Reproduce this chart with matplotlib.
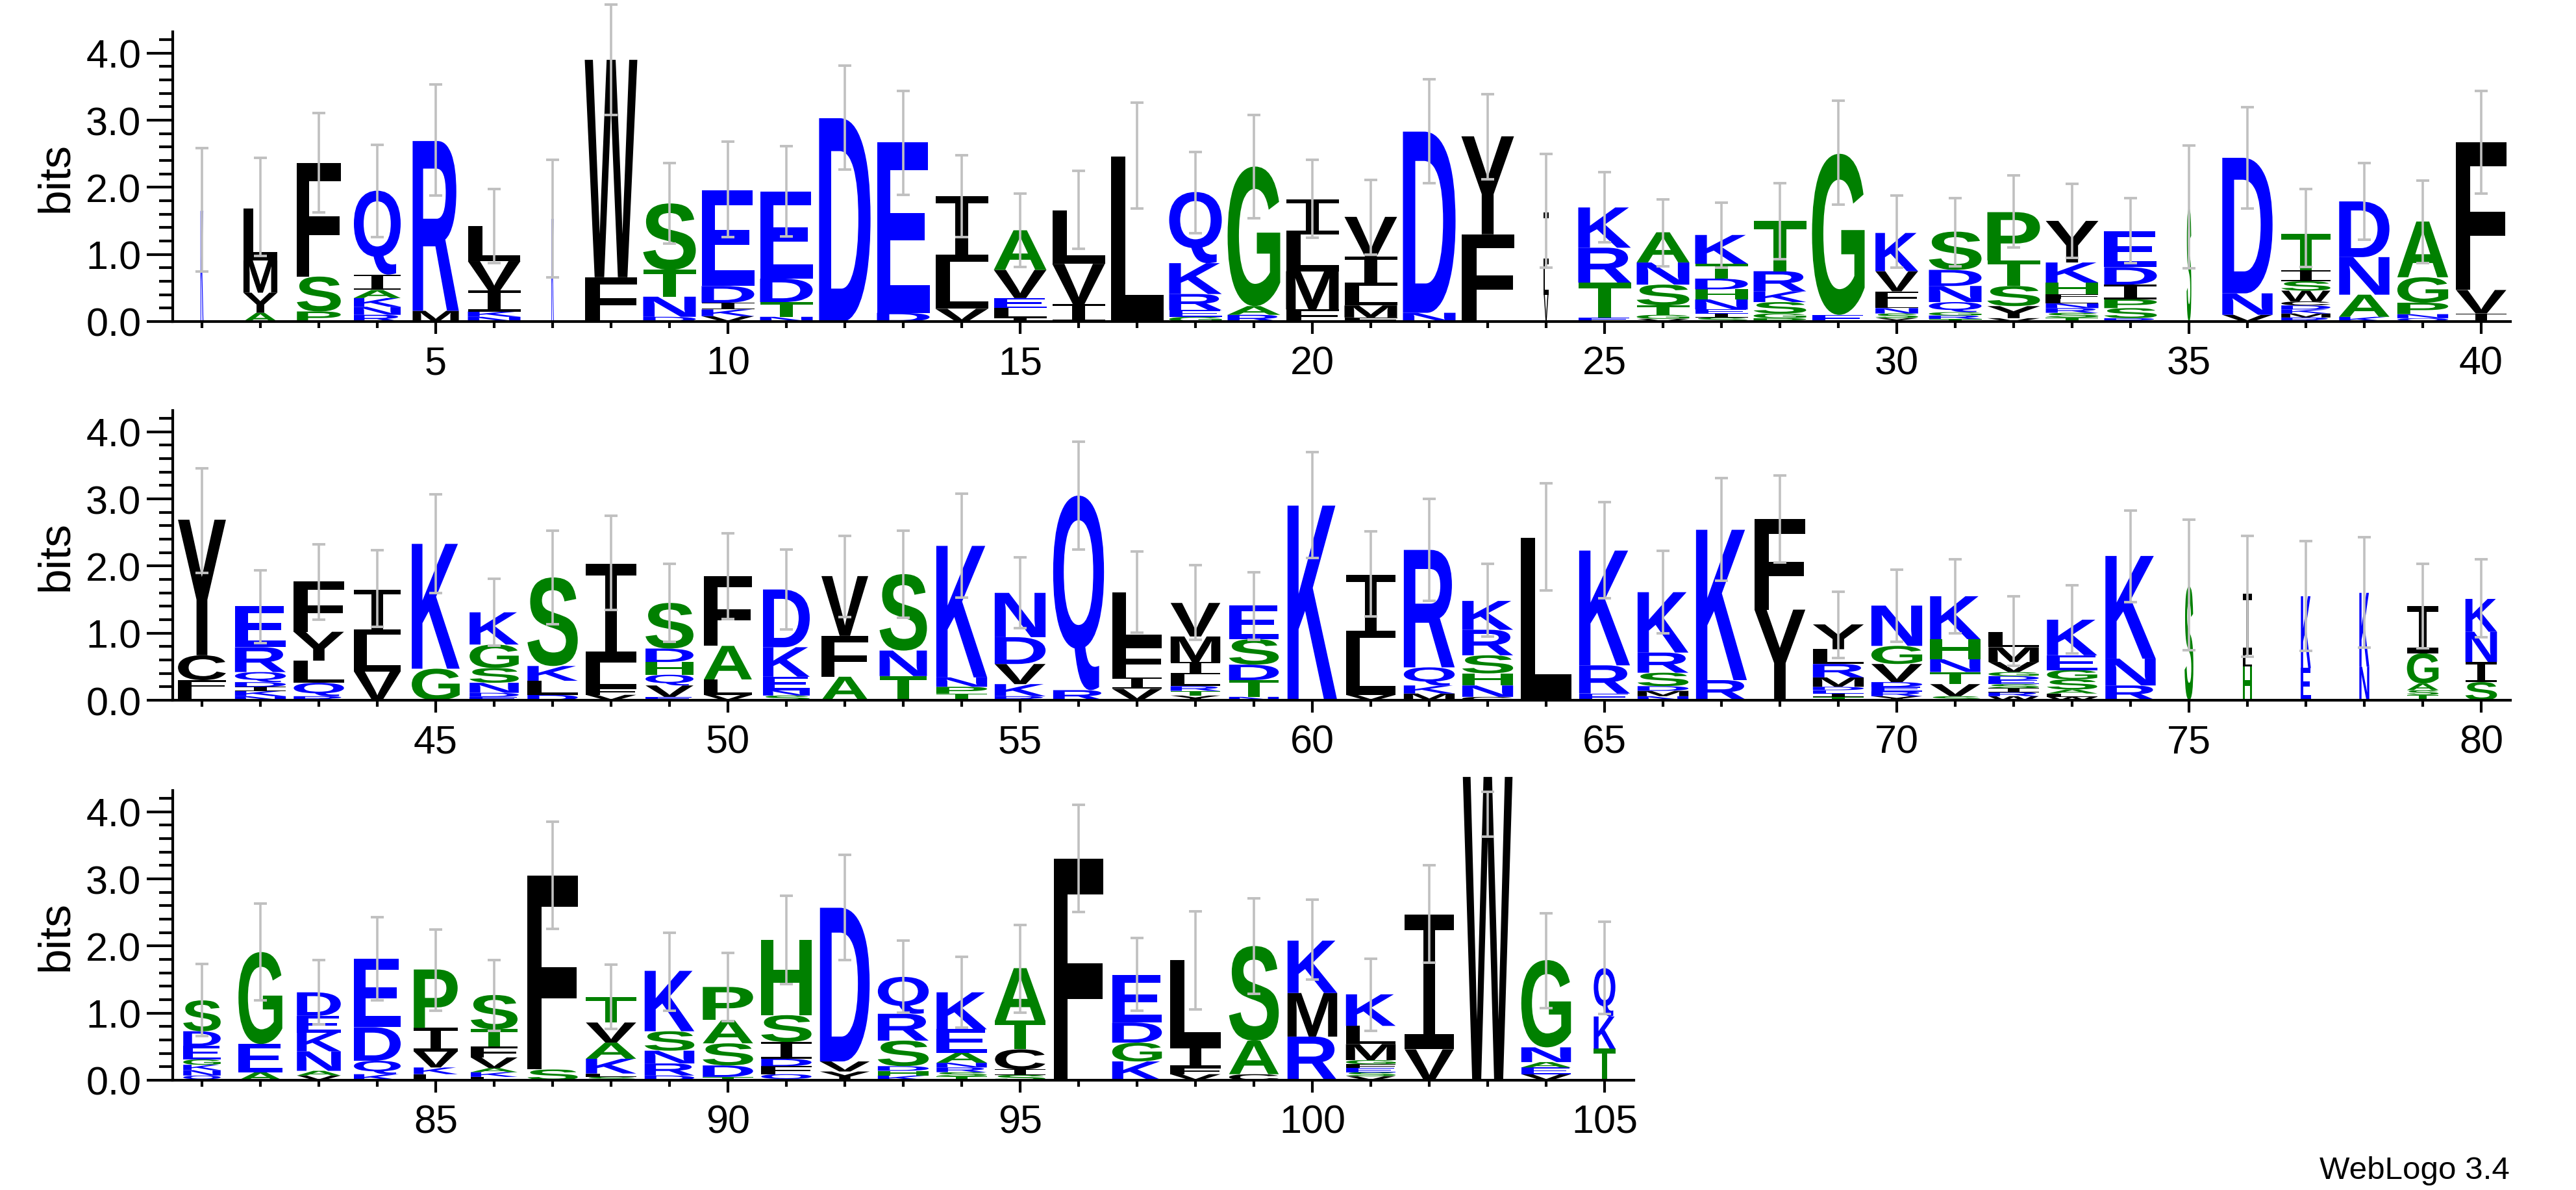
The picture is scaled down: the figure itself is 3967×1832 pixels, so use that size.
import matplotlib
matplotlib.use("Agg")
import matplotlib.pyplot as plt
from matplotlib.textpath import TextPath
from matplotlib.font_manager import FontProperties
from matplotlib.patches import PathPatch
from matplotlib.transforms import Affine2D

# ---------------- data (bottom -> top, letter:bits) ----------------
stacks_1_40 = [
    "K:1.65", "A:.13 Y:.30 M:.48 L:.77", "P:.15 S:.52 F:1.69",
    "R:.10 N:.12 K:.13 A:.12 I:.23 Q:1.25", "M:.16 R:2.53",
    "N:.07 K:.08 I:.31 V:.44 L:.52", "K:1.53", "F:.66 W:3.24",
    "D:.07 N:.30 T:.40 S:.99", "V:.08 K:.10 I:.10 D:.25 E:1.43",
    "N:.07 T:.22 D:.35 E:1.30", "D:3.03", "D:.13 E:2.54", "V:.19 L:.70 I:.98",
    "I:.05 L:.15 E:.15 V:.42 A:.59", "I:.26 V:.60 L:.80", "L:2.46",
    "G:.07 E:.10 R:.24 K:.46 Q:1.06", "R:.10 A:.13 G:2.08",
    "F:.18 M:.57 L:.55 I:.52", "F:.06 M:.18 L:.29 I:.44 V:.59", "N:.13 D:2.70",
    "F:1.30 Y:1.46", "V:.40 L:.45 I:.78", "E:.06 T:.52 R:.52 K:.60",
    "V:.04 G:.06 T:.14 S:.31 N:.33 A:.45",
    "S:.06 I:.06 E:.06 N:.15 H:.15 D:.16 T:.22 K:.43",
    "P:.05 G:.07 S:.17 K:.16 R:.30 T:.75", "E:.10 G:2.40",
    "Y:.05 S:.07 N:.08 L:.08 F:.17 V:.30 K:.57",
    "T:.04 R:.05 G:.05 Q:.15 N:.24 D:.24 S:.57", "V:.05 Y:.18 S:.30 T:.38 P:.72",
    "T:.06 S:.07 R:.07 N:.07 L:.07 F:.07 H:.17 K:.30 Y:.62",
    "R:.05 S:.15 P:.13 I:.22 D:.26 E:.54", "S:1.69", "V:.10 N:.32 D:2.02",
    "R:.06 M:.06 K:.06 D:.06 C:.06 W:.16 S:.14 I:.16 T:.55",
    "K:.07 A:.33 N:.56 D:.83", "Q:.05 N:.06 P:.17 G:.38 A:.83", "I:.12 V:.35 F:2.20",
]
stacks_41_80 = [
    "L:.14 F:.16 C:.37 Y:2.02", "N:.06 K:.08 I:.06 D:.07 Q:.15 R:.37 E:.61",
    "R:.06 Q:.20 L:.33 Y:.43 F:.75", "V:.43 L:.55 I:.67", "G:.47 K:1.86",
    "E:.05 D:.06 N:.15 S:.22 G:.35 K:.48", "D:.08 L:.21 K:.22 S:1.32",
    "V:.08 F:.10 L:.38 I:1.47", "E:.05 V:.17 Q:.16 H:.19 D:.20 S:.68",
    "V:.08 L:.23 A:.50 F:1.04", "S:.07 N:.08 E:.20 K:.44 D:.86",
    "A:.35 F:.61 V:.89", "T:.36 N:.38 S:1.14", "T:.10 P:.10 N:.14 K:1.96",
    "R:.06 K:.18 V:.30 D:.40 N:.66", "R:.15 Q:2.90", "V:.17 I:.17 F:.52 L:.75",
    "Y:.07 T:.07 R:.07 L:.18 I:.18 M:.38 V:.50", "N:.05 T:.25 D:.23 S:.38 E:.50",
    "K:2.90", "V:.08 L:.85 I:.94", "M:.10 K:.12 Q:.27 R:1.75",
    "C:.05 N:.17 H:.18 S:.27 R:.38 K:.43", "L:2.42", "E:.10 R:.42 K:1.71",
    "N:.06 M:.08 D:.07 S:.20 R:.30 K:.90", "R:.30 K:2.24", "Y:1.35 F:1.35",
    "T:.05 I:.05 E:.05 D:.05 M:.14 R:.20 L:.22 Y:.37",
    "Y:.06 R:.07 E:.07 D:.07 V:.27 G:.27 N:.60",
    "S:.06 V:.18 T:.18 N:.19 H:.30 K:.64",
    "W:.06 R:.06 I:.06 S:.06 E:.06 D:.06 G:.06 V:.15 M:.22 L:.23",
    "W:.05 L:.05 A:.06 S:.15 G:.14 E:.22 K:.53", "R:.22 N:.40 K:1.53",
    "S:1.70", "H:.50 L:.18 I:.91", "E:.48 K:1.07", "N:.50 K:1.10",
    "T:.08 S:.07 A:.10 G:.45 I:.70", "S:.27 I:.30 N:.45 K:.49",
]
stacks_81_105 = [
    "Q:.07 N:.08 K:.08 G:.08 E:.20 D:.22 S:.46", "A:.12 E:.42 G:1.37",
    "V:.07 A:.07 N:.29 K:.28 E:.25 D:.35", "K:.09 Q:.20 D:.50 E:1.02",
    "L:.09 K:.10 V:.24 I:.35 P:.87", "L:.05 K:.07 A:.06 V:.16 F:.16 T:.26 S:.51",
    "S:.16 F:2.89", "S:.05 L:.05 K:.22 A:.24 V:.30 T:.38",
    "D:.07 R:.18 N:.19 S:.29 K:.90", "T:.05 D:.17 S:.33 A:.35 P:.49",
    "Q:.09 F:.12 D:.11 I:.25 S:.40 H:1.12", "Y:.13 V:.15 D:2.29",
    "K:.07 H:.07 D:.07 S:.38 R:.40 Q:.55",
    "T:.06 S:.06 R:.07 N:.07 A:.15 E:.35 K:.55", "S:.08 I:.08 C:.30 T:.43 A:.78",
    "F:3.30", "K:.28 G:.28 D:.30 E:.71", "V:.09 F:.10 I:.32 L:1.28",
    "C:.09 A:.50 S:1.41", "R:.65 M:.65 K:.78",
    "V:.06 S:.06 E:.06 F:.06 G:.06 M:.24 L:.27 K:.47", "V:.46 I:2.01", "W:4.52",
    "V:.09 E:.10 A:.08 N:.22 G:1.30", "T:.47 K:.48 Q:.72",
]

widths_1_40 = [0.05, 0.58, 0.75, 0.80, 0.79, 0.90, 0.04, 0.90, 0.90, 0.90,
               0.90, 0.88, 0.90, 0.90, 0.90, 0.90, 0.90, 0.90, 0.90, 0.90,
               0.90, 0.90, 0.90, 0.08, 0.90, 0.90, 0.90, 0.90, 0.90, 0.73,
               0.90, 0.90, 0.90, 0.90, 0.08, 0.86, 0.84, 0.86, 0.87, 0.86]
widths_41_80 = [0.82, 0.87, 0.86, 0.80, 0.82, 0.84, 0.86, 0.86, 0.82, 0.82,
                0.80, 0.80, 0.81, 0.87, 0.87, 0.87, 0.85, 0.85, 0.85, 0.85,
                0.85, 0.87, 0.87, 0.87, 0.87, 0.87, 0.87, 0.87, 0.87, 0.87,
                0.86, 0.86, 0.86, 0.86, 0.15, 0.16, 0.17, 0.17, 0.54, 0.54]
widths_81_105 = [0.64, 0.75, 0.75, 0.80, 0.75, 0.80, 0.86, 0.86, 0.85, 0.86,
                 0.86, 0.85, 0.87, 0.86, 0.86, 0.85, 0.85, 0.86, 0.85, 0.85,
                 0.85, 0.84, 0.85, 0.85, 0.37]

err_lo_1_40 = [0.75, 0.98, 1.63, 1.26, 1.88, 0.87, 0.66, 3.08, 1.16, 1.26,
               1.27, 2.27, 1.89, 1.26, 0.81, 1.08, 1.68, 1.32, 1.54, 1.25,
               1.00, 2.06, 2.12, 0.80, 1.18, 0.82, 0.80, 0.93, 1.74, 0.80,
               0.82, 1.10, 0.95, 0.87, 0.79, 1.68, 0.81, 1.22, 0.87, 1.91]
err_hi_1_40 = [2.58, 2.44, 3.11, 2.63, 3.53, 1.97, 2.41, 4.72, 2.36, 2.68,
               2.61, 3.81, 3.44, 2.48, 1.91, 2.25, 3.26, 2.53, 3.08, 2.41,
               2.11, 3.61, 3.39, 2.50, 2.23, 1.82, 1.77, 2.06, 3.29, 1.88,
               1.84, 2.18, 2.05, 1.84, 2.62, 3.19, 1.97, 2.36, 2.10, 3.44]
err_lo_41_80 = [1.90, 0.85, 1.20, 1.09, 1.60, 0.81, 1.13, 1.35, 0.87, 1.21,
                1.06, 1.24, 1.23, 1.53, 1.07, 2.25, 1.01, 0.90, 0.90, 2.12,
                1.25, 1.48, 0.95, 1.64, 1.52, 1.00, 1.78, 2.05, 0.63, 0.87,
                1.00, 0.51, 0.70, 1.46, 0.75, 0.65, 0.74, 0.78, 0.77, 0.94]
err_hi_41_80 = [3.46, 1.94, 2.32, 2.24, 3.07, 1.81, 2.53, 2.75, 2.03, 2.49,
                2.25, 2.45, 2.53, 3.08, 2.13, 3.85, 2.22, 2.01, 1.91, 3.70,
                2.52, 3.00, 2.03, 3.23, 2.95, 2.23, 3.31, 3.35, 1.62, 1.95,
                2.10, 1.55, 1.71, 2.83, 2.69, 2.45, 2.37, 2.43, 2.03, 2.10]
err_lo_81_105 = [0.66, 1.19, 0.83, 1.19, 1.04, 0.74, 2.26, 0.76, 1.04, 0.88,
                 1.43, 1.79, 1.01, 0.78, 1.01, 2.51, 1.04, 1.06, 1.29, 1.50,
                 0.74, 1.75, 3.63, 1.07, 0.99]
err_hi_81_105 = [1.73, 2.63, 1.79, 2.43, 2.25, 1.79, 3.85, 1.72, 2.20, 1.90,
                 2.75, 3.36, 2.08, 1.84, 2.31, 4.10, 2.12, 2.52, 2.71, 2.69,
                 1.81, 3.20, 4.30, 2.49, 2.36]

first_pos = [1, 41, 81]
ytick_labels = ["0.0", "1.0", "2.0", "3.0", "4.0"]

# ---------------- style ----------------
COLORS = {}
for c in "RKDENQ":
    COLORS[c] = "#0000FF"
for c in "SGHTAP":
    COLORS[c] = "#008000"
for c in "YVMCLFIW":
    COLORS[c] = "#000000"

FP = FontProperties(family="Liberation Sans", weight="bold")
FP_I = FontProperties(family="DejaVu Sans Mono", weight="normal")
_cache = {}


def glyph(ch):
    if ch not in _cache:
        prop = FP_I if ch == "I" else FP
        p = TextPath((0, 0), ch, size=100, prop=prop)
        _cache[ch] = (p, p.get_extents())
    return _cache[ch]


def draw_letter(ax, ch, xc, y0, w, h):
    p, ext = glyph(ch)
    tr = (Affine2D().translate(-ext.x0, -ext.y0)
          .scale(w / ext.width, h / ext.height)
          .translate(xc - w / 2.0, y0))
    ax.add_patch(PathPatch(tr.transform_path(p), facecolor=COLORS[ch],
                           edgecolor="none", lw=0, clip_on=False, zorder=2))


W, H = 3967, 1833
plt.rcParams["font.family"] = ["Liberation Sans", "DejaVu Sans"]
fig = plt.figure(figsize=(W / 100, H / 100), dpi=100)

px_per_pos = 90.0
px_per_bit = 103.3
ymax = 4.32
left_px = 266
baselines_px = [496, 1079, 1664]

rows = [
    (stacks_1_40, widths_1_40, err_lo_1_40, err_hi_1_40),
    (stacks_41_80, widths_41_80, err_lo_41_80, err_hi_41_80),
    (stacks_81_105, widths_81_105, err_lo_81_105, err_hi_81_105),
]

for r, (stacks, widths, elo, ehi) in enumerate(rows):
    n = len(stacks)
    p0 = first_pos[r]
    wpx = n * px_per_pos
    hpx = ymax * px_per_bit
    ax = fig.add_axes([left_px / W, (H - baselines_px[r]) / H, wpx / W, hpx / H])
    ax.set_xlim(p0 - 0.5, p0 + n - 0.5)
    ax.set_ylim(0, ymax)
    for i, s in enumerate(stacks):
        x = p0 + i
        y = 0.0
        for tok in s.split():
            ch, hv = tok.split(":")
            hv = float(hv)
            draw_letter(ax, ch, x, y, widths[i], hv)
            y += hv
        # error bar
        ax.vlines(x, elo[i], ehi[i], colors="#C0C0C0", lw=2.6, zorder=3,
                  clip_on=False)
        ax.hlines([elo[i], ehi[i]], x - 0.115, x + 0.115, colors="#C0C0C0",
                  lw=2.8, zorder=3, clip_on=False)
    for sp in ["top", "right"]:
        ax.spines[sp].set_visible(False)
    for sp in ["left", "bottom"]:
        ax.spines[sp].set_linewidth(3)
    positions = list(range(p0, p0 + n))
    majors = [p for p in positions if p % 5 == 0]
    ax.set_xticks(positions, minor=True)
    ax.set_xticks(majors)
    ax.set_xticklabels([str(p) for p in majors])
    ax.set_yticks([0, 1, 2, 3, 4])
    ax.set_yticklabels(ytick_labels)
    ax.set_yticks([k * 0.2 for k in range(22)], minor=True)
    ax.tick_params(axis="x", which="major", length=14, width=3, labelsize=44,
                   pad=12, direction="out")
    ax.tick_params(axis="x", which="minor", length=7, width=3, direction="out")
    ax.tick_params(axis="y", which="major", length=29, width=3, labelsize=44,
                   pad=6, direction="out")
    ax.tick_params(axis="y", which="minor", length=15, width=3, direction="out")
    ax.set_ylabel("bits", fontsize=50, labelpad=10)
    ax.patch.set_alpha(0)

fig.text(3865 / W, 18 / H, "WebLogo 3.4", ha="right", va="baseline",
         fontsize=35.5)

fig.savefig("out.png", dpi=100)
